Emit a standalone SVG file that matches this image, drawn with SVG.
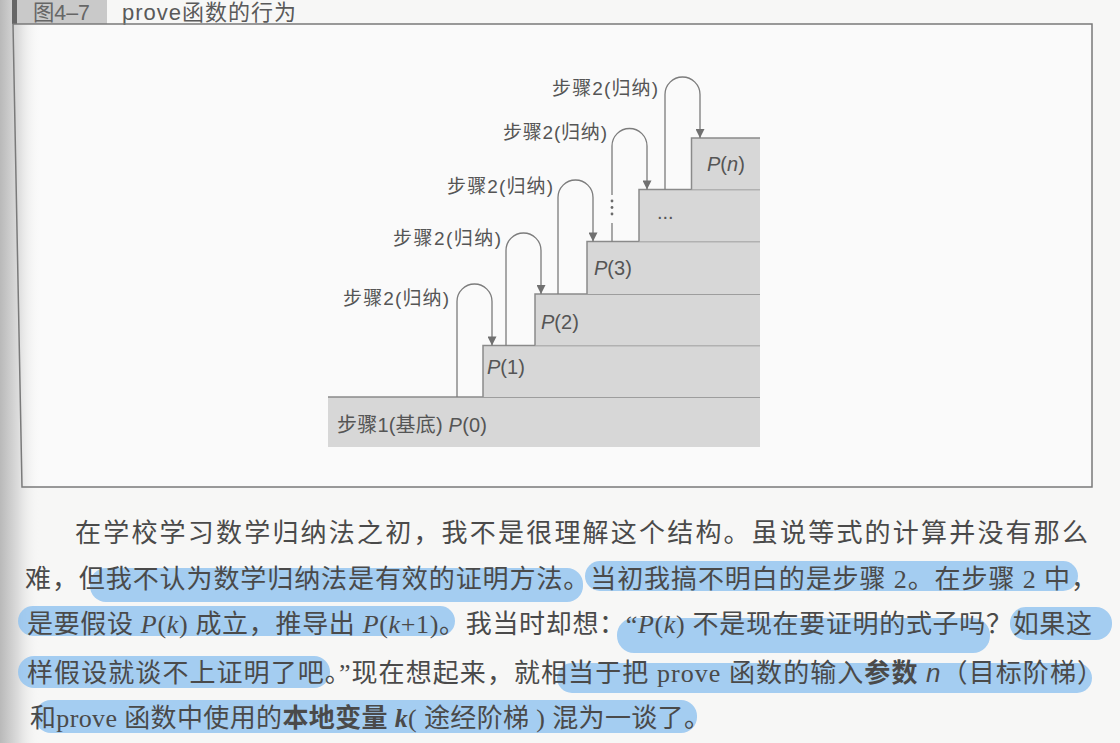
<svg xmlns="http://www.w3.org/2000/svg" width="1120" height="743" viewBox="0 0 1120 743">
<defs>
<linearGradient id="shade" x1="0" y1="0" x2="1" y2="0">
<stop offset="0" stop-color="#b9b9b9"/>
<stop offset="0.45" stop-color="#dcdcdc"/>
<stop offset="1" stop-color="#f7f7f6" stop-opacity="0"/>
</linearGradient>
<marker id="ah" viewBox="0 0 10 10" refX="10" refY="5" markerWidth="10" markerHeight="9" markerUnits="userSpaceOnUse" orient="auto">
<path d="M0,0 L10,5 L0,10 z" fill="#707070"/>
</marker>
<style>
.frame{fill:none;stroke:#7a7a7a;stroke-width:1.5}
.step{fill:#d7d7d7;stroke:none}
.edge{fill:none;stroke:#8a8a8a;stroke-width:1.5}
.loop{fill:none;stroke:#7c7c7c;stroke-width:1.3}
.lbl{font-family:"Liberation Sans","Noto Sans CJK SC",sans-serif;font-size:19px;fill:#555}
.hd{font-family:"Liberation Sans","Noto Sans CJK SC",sans-serif;font-size:22px;fill:#5a5a5a}
.pl{font-family:"Liberation Sans","Noto Sans CJK SC",sans-serif;font-size:20px;fill:#555}
.body{font-family:"Liberation Serif","Noto Sans CJK SC",serif;font-size:26px;fill:#4a4a4a}
.hl{fill:#8fc2f0;opacity:0.8}
.it{font-style:italic}
.b{font-weight:bold}
</style>
</defs>

<rect x="0" y="0" width="1120" height="743" fill="#f7f7f6"/>
<rect x="22" y="24" width="1070" height="463" fill="#fafafa"/>
<rect x="0" y="0" width="40" height="743" fill="url(#shade)"/>

<g id="header">
<rect x="12" y="0" width="5" height="24" fill="#666"/>
<rect x="17" y="0" width="90" height="24" fill="#c9c9c9"/>
<text x="33" y="20" class="hd" style="fill:#666" textLength="57" lengthAdjust="spacingAndGlyphs">图4–7</text>
<text x="122" y="20" class="hd" textLength="174" lengthAdjust="spacing">prove函数的行为</text>
</g>

<g id="frame">
<path class="frame" d="M13,24 H1092 V487 H22 Z"/>
</g>

<g id="step0">
<rect class="step" x="328" y="397" width="432" height="50"/>
<path class="edge" d="M328,397 H760"/>
<text class="pl" x="337" y="432" textLength="150" lengthAdjust="spacing">步骤1(基底) <tspan class="it">P</tspan>(0)</text>
</g>
<g id="step1">
<rect class="step" x="483" y="345.5" width="277" height="51.5"/>
<path class="edge" d="M483,397 V345.5 H760"/>
<text class="pl" x="487" y="374"><tspan class="it">P</tspan>(1)</text>
</g>
<g id="step2">
<rect class="step" x="535" y="294" width="225" height="51.5"/>
<path class="edge" d="M535,345.5 V294 H760"/>
<text class="pl" x="541" y="329"><tspan class="it">P</tspan>(2)</text>
</g>
<g id="step3">
<rect class="step" x="587" y="241.5" width="173" height="52.5"/>
<path class="edge" d="M587,294 V241.5 H760"/>
<text class="pl" x="594" y="275"><tspan class="it">P</tspan>(3)</text>
</g>
<g id="step4">
<rect class="step" x="639" y="189.5" width="121" height="52"/>
<path class="edge" d="M639,241.5 V189.5 H760"/>
<text class="pl" x="657" y="219">...</text>
</g>
<g id="stepn">
<rect class="step" x="691.5" y="138" width="68.5" height="51.5"/>
<path class="edge" d="M691.5,189.5 V138 H760"/>
<text class="pl" x="707" y="171"><tspan class="it">P</tspan>(<tspan class="it">n</tspan>)</text>
</g>

<g id="connectors">
<path class="loop" marker-end="url(#ah)" d="M457,397 V301.5 A17.5,17.5 0 0 1 492,301.5 V345.5"/>
<path class="loop" marker-end="url(#ah)" d="M506,345.5 V250.5 A17.5,17.5 0 0 1 541,250.5 V294"/>
<path class="loop" marker-end="url(#ah)" d="M558,294 V197.5 A17.5,17.5 0 0 1 593,197.5 V241.5"/>
<path class="loop" marker-end="url(#ah)" d="M612,195 V146 A17.5,17.5 0 0 1 647,146 V189.5"/>
<path class="loop" d="M612,241.5 V223"/>
<g fill="#6a6a6a">
<circle cx="612" cy="201" r="1.4"/>
<circle cx="612" cy="207.5" r="1.4"/>
<circle cx="612" cy="214" r="1.4"/>
</g>
<path class="loop" marker-end="url(#ah)" d="M665,189.5 V94.5 A17.5,17.5 0 0 1 700,94.5 V138"/>
</g>

<g id="loop-labels">
<text class="lbl" x="343" y="305" textLength="106" lengthAdjust="spacing">步骤2(归纳)</text>
<text class="lbl" x="393" y="245" textLength="108" lengthAdjust="spacing">步骤2(归纳)</text>
<text class="lbl" x="447" y="193" textLength="106" lengthAdjust="spacing">步骤2(归纳)</text>
<text class="lbl" x="503" y="139" textLength="104" lengthAdjust="spacing">步骤2(归纳)</text>
<text class="lbl" x="552" y="95" textLength="106" lengthAdjust="spacing">步骤2(归纳)</text>
</g>

<g id="highlights">
<rect class="hl" x="90" y="568" width="493" height="34" rx="16"/>
<rect class="hl" x="585" y="561" width="493" height="30" rx="15"/>
<rect class="hl" x="18" y="606" width="437" height="30" rx="15"/>
<rect class="hl" x="617" y="618" width="373" height="35" rx="17"/>
<rect class="hl" x="1010" y="607" width="102" height="33" rx="16"/>
<rect class="hl" x="18" y="656" width="312" height="32" rx="16"/>
<rect class="hl" x="557" y="663" width="535" height="30" rx="15"/>
<rect class="hl" x="35" y="700" width="662" height="33" rx="16"/>
</g>

<g id="body-text">
<text class="body" x="75" y="542" textLength="1013" lengthAdjust="spacing">在学校学习数学归纳法之初，我不是很理解这个结构。虽说等式的计算并没有那么</text>
<text class="body" x="25" y="588" textLength="1072" lengthAdjust="spacing">难，但我不认为数学归纳法是有效的证明方法。当初我搞不明白的是步骤 2。在步骤 2 中，</text>
<text class="body" x="27" y="633" textLength="1065" lengthAdjust="spacing">是要假设 <tspan class="it">P</tspan>(<tspan class="it">k</tspan>) 成立，推导出 <tspan class="it">P</tspan>(<tspan class="it">k</tspan>+1)。我当时却想：“<tspan class="it">P</tspan>(<tspan class="it">k</tspan>) 不是现在要证明的式子吗？如果这</text>
<text class="body" x="27" y="682" textLength="1076" lengthAdjust="spacing">样假设就谈不上证明了吧。”现在想起来，就相当于把 prove 函数的输入<tspan class="b">参数</tspan> <tspan class="it" style="font-family:'Liberation Sans',sans-serif">n</tspan>（目标阶梯）</text>
<text class="body" x="30" y="727" textLength="680" lengthAdjust="spacing">和prove 函数中使用的<tspan class="b">本地变量 </tspan><tspan class="b it">k</tspan>( 途经阶梯 ) 混为一谈了。</text>
</g>
</svg>
